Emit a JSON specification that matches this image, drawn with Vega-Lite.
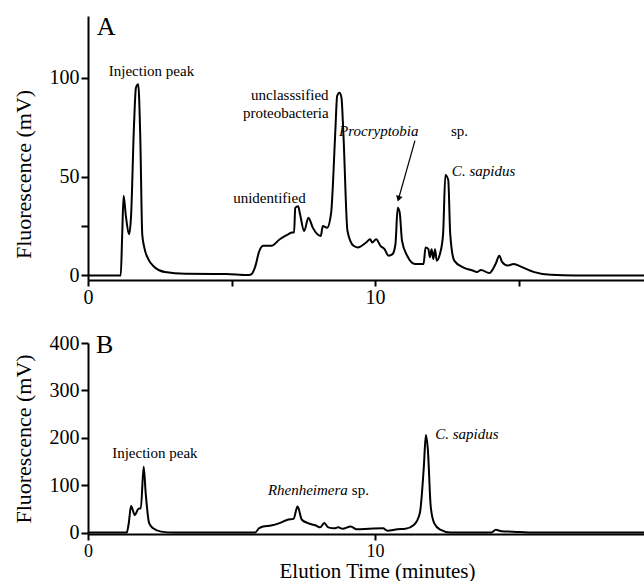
{
  "$schema": "https://vega.github.io/schema/vega-lite/v6.json",
  "padding": {"left": 11, "top": 13, "right": 0, "bottom": 0},
  "background": "white",
  "bounds": "flush",
  "spacing": 63,
  "config": {
    "font": "'Liberation Serif', 'Times New Roman', serif",
    "view": {"stroke": null},
    "axis": {
      "grid": false,
      "domainColor": "black",
      "domainWidth": 2,
      "tickColor": "black",
      "tickWidth": 2,
      "labelFont": "'Liberation Serif', 'Times New Roman', serif",
      "labelFontSize": 20,
      "labelColor": "black",
      "titleFont": "'Liberation Serif', 'Times New Roman', serif",
      "titleFontWeight": "normal",
      "titleFontSize": 22,
      "titleColor": "black"
    },
    "text": {"font": "'Liberation Serif', 'Times New Roman', serif", "color": "black", "baseline": "middle", "align": "center"}
  },
  "datasets": {
    "traceA": [
      {"t": 0, "f": 0}, {"t": 1.14, "f": 0}, {"t": 1.19, "f": 20}, {"t": 1.24, "f": 40.3}, {"t": 1.32, "f": 30},
      {"t": 1.43, "f": 20.8}, {"t": 1.5, "f": 30}, {"t": 1.6, "f": 75}, {"t": 1.67, "f": 95}, {"t": 1.75, "f": 96.7},
      {"t": 1.82, "f": 70.8}, {"t": 1.89, "f": 20.8}, {"t": 1.96, "f": 14.2}, {"t": 2.1, "f": 8.3}, {"t": 2.32, "f": 4.2},
      {"t": 2.68, "f": 1.7}, {"t": 3.39, "f": 0.8}, {"t": 4.82, "f": 0.7}, {"t": 5.54, "f": 0.2}, {"t": 5.68, "f": 0.5},
      {"t": 5.82, "f": 4.2}, {"t": 5.97, "f": 12.5}, {"t": 6.11, "f": 15}, {"t": 6.39, "f": 15}, {"t": 6.68, "f": 18.3},
      {"t": 6.97, "f": 20.8}, {"t": 7.11, "f": 21.7}, {"t": 7.18, "f": 21.7}, {"t": 7.22, "f": 34.2}, {"t": 7.32, "f": 35},
      {"t": 7.39, "f": 30.8}, {"t": 7.53, "f": 22.5}, {"t": 7.68, "f": 29.2}, {"t": 7.83, "f": 24.2}, {"t": 8.11, "f": 20},
      {"t": 8.18, "f": 25}, {"t": 8.33, "f": 24.2}, {"t": 8.47, "f": 31.7}, {"t": 8.61, "f": 70.8}, {"t": 8.68, "f": 90.8},
      {"t": 8.76, "f": 92.5}, {"t": 8.83, "f": 90}, {"t": 8.9, "f": 70.8}, {"t": 9.04, "f": 22.5}, {"t": 9.25, "f": 15},
      {"t": 9.4, "f": 14.2}, {"t": 9.69, "f": 16.7}, {"t": 9.83, "f": 18.3}, {"t": 9.9, "f": 16.7}, {"t": 10.04, "f": 18.3},
      {"t": 10.19, "f": 15}, {"t": 10.33, "f": 13.3}, {"t": 10.47, "f": 10}, {"t": 10.61, "f": 10.8}, {"t": 10.71, "f": 15.8},
      {"t": 10.79, "f": 34.2}, {"t": 10.86, "f": 31.7}, {"t": 10.94, "f": 17.5}, {"t": 11.12, "f": 10}, {"t": 11.4, "f": 5.8},
      {"t": 11.69, "f": 5.8}, {"t": 11.76, "f": 14.2}, {"t": 11.86, "f": 13.3}, {"t": 11.91, "f": 9.2}, {"t": 11.97, "f": 13.3},
      {"t": 12.03, "f": 8.3}, {"t": 12.09, "f": 13.3}, {"t": 12.15, "f": 7.5}, {"t": 12.26, "f": 10.8}, {"t": 12.37, "f": 20.8},
      {"t": 12.45, "f": 50.8}, {"t": 12.55, "f": 48.3}, {"t": 12.62, "f": 20.8}, {"t": 12.76, "f": 7.5}, {"t": 13.05, "f": 4.2},
      {"t": 13.4, "f": 2.5}, {"t": 13.55, "f": 1.7}, {"t": 13.69, "f": 2.8}, {"t": 13.98, "f": 1.2}, {"t": 14.2, "f": 5.8},
      {"t": 14.33, "f": 10}, {"t": 14.43, "f": 6.7}, {"t": 14.62, "f": 5}, {"t": 14.83, "f": 5.8}, {"t": 15.12, "f": 4.2},
      {"t": 15.55, "f": 1.7}, {"t": 16.12, "f": 0.3}, {"t": 16.98, "f": 0}, {"t": 19.37, "f": 0}
    ],
    "traceB": [
      {"t": 0, "f": 0}, {"t": 1.35, "f": 0}, {"t": 1.42, "f": 19.7}, {"t": 1.5, "f": 56}, {"t": 1.63, "f": 37},
      {"t": 1.77, "f": 51}, {"t": 1.84, "f": 51}, {"t": 1.94, "f": 139}, {"t": 2.01, "f": 83}, {"t": 2.13, "f": 20},
      {"t": 2.27, "f": 9}, {"t": 2.55, "f": 2}, {"t": 2.98, "f": 0}, {"t": 5.82, "f": 0}, {"t": 5.96, "f": 9},
      {"t": 6.1, "f": 13}, {"t": 6.38, "f": 15}, {"t": 6.67, "f": 20}, {"t": 6.95, "f": 27}, {"t": 7.16, "f": 29},
      {"t": 7.3, "f": 55}, {"t": 7.45, "f": 27}, {"t": 7.66, "f": 20}, {"t": 7.94, "f": 15}, {"t": 8.09, "f": 11},
      {"t": 8.23, "f": 20}, {"t": 8.37, "f": 11}, {"t": 8.58, "f": 9}, {"t": 8.72, "f": 11}, {"t": 8.87, "f": 8},
      {"t": 9.15, "f": 13}, {"t": 9.36, "f": 7}, {"t": 9.79, "f": 8}, {"t": 10.28, "f": 9}, {"t": 10.43, "f": 4},
      {"t": 10.78, "f": 7}, {"t": 11.06, "f": 8}, {"t": 11.35, "f": 16}, {"t": 11.56, "f": 41}, {"t": 11.7, "f": 139},
      {"t": 11.77, "f": 206}, {"t": 11.84, "f": 175}, {"t": 11.94, "f": 55}, {"t": 12.06, "f": 20}, {"t": 12.27, "f": 6},
      {"t": 12.62, "f": 0}, {"t": 14.04, "f": 0}, {"t": 14.21, "f": 6}, {"t": 14.4, "f": 3}, {"t": 15.04, "f": 1.4},
      {"t": 15.46, "f": 0}, {"t": 19.37, "f": 0}
    ],
    "labelsA": [
      {"t": 2.21, "f": 103.5, "text": "Injection peak"},
      {"t": 7.03, "f": 91.4, "text": "unclasssified"},
      {"t": 6.89, "f": 82.3, "text": "proteobacteria"},
      {"t": 6.32, "f": 39.4, "text": "unidentified"},
      {"t": 12.94, "f": 73.2, "text": "sp."}
    ],
    "speciesA": [
      {"t": 10.13, "f": 73.2, "text": "Procryptobia"},
      {"t": 13.78, "f": 53, "text": "C. sapidus"}
    ],
    "panelA": [{"t": 0.63, "f": 125.8, "text": "A"}],
    "arrowA": [{"t": 11.39, "f": 68.2, "t2": 10.82, "f2": 38.8}],
    "arrowHeadA": [{"t": 10.82, "f": 38.8}],
    "labelsB": [
      {"t": 2.33, "f": 167.8, "text": "Injection peak"},
      {"t": 9.49, "f": 88.9, "text": "sp."}
    ],
    "speciesB": [
      {"t": 7.66, "f": 88.9, "text": "Rhenheimera"},
      {"t": 13.2, "f": 208, "text": "C. sapidus"}
    ],
    "panelB": [{"t": 0.58, "f": 396, "text": "B"}]
  },
  "vconcat": [
    {
      "width": 556,
      "height": 264,
      "encoding": {
        "x": {"field": "t", "type": "quantitative", "scale": {"domain": [0, 19.37], "nice": false, "zero": false},
          "axis": {"title": null, "values": [0, 5, 10, 15], "labelExpr": "datum.value == 0 || datum.value == 10 ? datum.label : ''", "tickSize": 6, "labelPadding": 1, "labelFlush": false}},
        "y": {"field": "f", "type": "quantitative", "scale": {"domain": [-2.3, 131.3], "nice": false, "zero": false},
          "axis": {"title": "Fluorescence (mV)", "values": [0, 25, 50, 100], "labelExpr": "datum.value == 25 ? '' : datum.label", "tickSize": 7, "labelPadding": 2, "titleX": -65, "titleY": 158, "titleBaseline": "middle", "titleAngle": -90}}
      },
      "layer": [
        {"data": {"name": "traceA"}, "mark": {"type": "line", "color": "black", "strokeWidth": 2, "strokeJoin": "round", "interpolate": "monotone"}},
        {"data": {"name": "labelsA"}, "mark": {"type": "text", "fontSize": 15}, "encoding": {"text": {"field": "text"}}},
        {"data": {"name": "speciesA"}, "mark": {"type": "text", "fontSize": 15, "fontStyle": "italic"}, "encoding": {"text": {"field": "text"}}},
        {"data": {"name": "panelA"}, "mark": {"type": "text", "fontSize": 26}, "encoding": {"text": {"field": "text"}}},
        {"data": {"name": "arrowA"}, "mark": {"type": "rule", "color": "black", "strokeWidth": 1.2},
          "encoding": {"x2": {"field": "t2"}, "y2": {"field": "f2"}}},
        {"data": {"name": "arrowHeadA"}, "mark": {"type": "point", "shape": "triangle-down", "filled": true, "color": "black", "opacity": 1, "size": 45, "angle": 16}}
      ]
    },
    {
      "width": 556,
      "height": 191,
      "encoding": {
        "x": {"field": "t", "type": "quantitative", "scale": {"domain": [0, 19.37], "nice": false, "zero": false},
          "axis": {"title": "Elution Time (minutes)", "titleFontSize": 21, "values": [0, 10], "tickSize": 6, "labelPadding": 2, "labelFontSize": 18, "labelFlush": false, "titleX": 289, "titleY": 37, "titleBaseline": "middle"}},
        "y": {"field": "f", "type": "quantitative", "scale": {"domain": [-3, 400], "nice": false, "zero": false},
          "axis": {"title": "Fluorescence (mV)", "values": [0, 100, 200, 300, 400], "tickSize": 7, "labelPadding": 2, "titleX": -65, "titleY": 95.5, "titleBaseline": "middle", "titleAngle": -90}}
      },
      "layer": [
        {"data": {"name": "traceB"}, "mark": {"type": "line", "color": "black", "strokeWidth": 2, "strokeJoin": "round", "interpolate": "monotone"}},
        {"data": {"name": "labelsB"}, "mark": {"type": "text", "fontSize": 15}, "encoding": {"text": {"field": "text"}}},
        {"data": {"name": "speciesB"}, "mark": {"type": "text", "fontSize": 15, "fontStyle": "italic"}, "encoding": {"text": {"field": "text"}}},
        {"data": {"name": "panelB"}, "mark": {"type": "text", "fontSize": 26}, "encoding": {"text": {"field": "text"}}}
      ]
    }
  ]
}
